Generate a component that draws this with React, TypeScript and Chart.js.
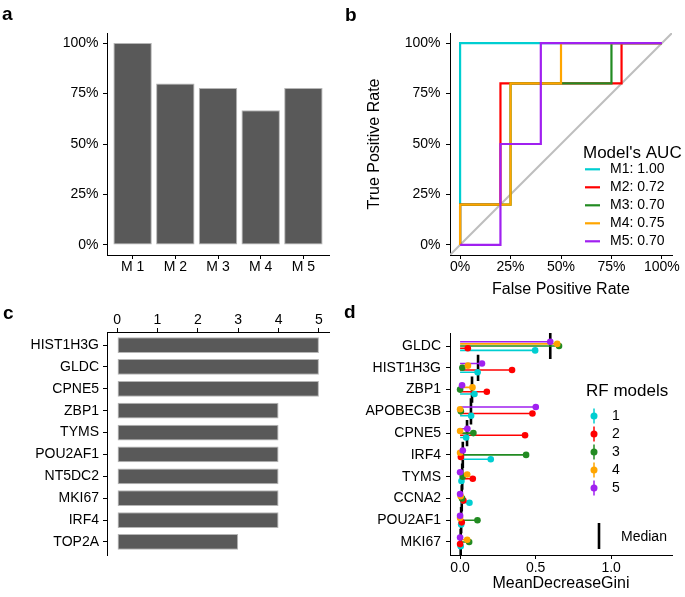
import React, { useEffect, useRef } from 'react';
import { Chart, registerables } from 'chart.js';

Chart.register(...registerables);

const FONT = '"Liberation Sans", Arial, Helvetica, sans-serif';
const INK = '#000000';
const BAR_FILL = '#595959';
const BAR_EDGE = '#b5b5b5';

// ---------- Panel a: accuracy of each model
const modelNames = ['M 1', 'M 2', 'M 3', 'M 4', 'M 5'];
const modelAccuracy = [1.0, 0.8, 0.778, 0.667, 0.778];
const percentTicks = [0, 0.25, 0.5, 0.75, 1];

// ---------- Panel b: ROC curves
const rocNames = ['M1', 'M2', 'M3', 'M4', 'M5'];
const rocAuc = [1.0, 0.72, 0.7, 0.75, 0.7];
const modelColors = ['#00CED1', '#FF0000', '#228B22', '#FFA500', '#A020F0'];
const rocFpr = [
  [0, 0, 1],
  [0, 0, 0.2, 0.2, 0.8, 0.8, 1],
  [0, 0, 0.25, 0.25, 0.75, 0.75, 1],
  [0, 0, 0.25, 0.25, 0.5, 0.5, 1],
  [0, 0.2, 0.2, 0.4, 0.4, 1],
];
const rocTpr = [
  [0, 1, 1],
  [0, 0.2, 0.2, 0.8, 0.8, 1, 1],
  [0, 0.2, 0.2, 0.8, 0.8, 1, 1],
  [0, 0.2, 0.2, 0.8, 0.8, 1, 1],
  [0, 0, 0.5, 0.5, 1, 1],
];

// ---------- Panel c: gene selection counts
const genesC = ['HIST1H3G', 'GLDC', 'CPNE5', 'ZBP1', 'TYMS', 'POU2AF1', 'NT5DC2', 'MKI67', 'IRF4', 'TOP2A'];
const countsC = [5, 5, 5, 4, 4, 4, 4, 4, 4, 3];
const countTicks = [0, 1, 2, 3, 4, 5];

// ---------- Panel d: MeanDecreaseGini per RF model
const genesD = ['GLDC', 'HIST1H3G', 'ZBP1', 'APOBEC3B', 'CPNE5', 'IRF4', 'TYMS', 'CCNA2', 'POU2AF1', 'MKI67'];
const rfNames = ['1', '2', '3', '4', '5'];
const rf1 = [0.497, 0.116, 0.095, 0.073, 0.04, 0.203, 0.009, 0.062, 0.007, 0.004];
const rf2 = [0.051, 0.344, 0.177, 0.479, 0.43, 0.005, 0.084, 0.022, 0.011, 0.0];
const rf3 = [0.655, 0.015, 0.0, 0.005, 0.088, 0.437, 0.017, 0.013, 0.115, 0.06];
const rf4 = [0.643, 0.052, 0.082, 0.0, 0.0, 0.0, 0.047, 0.004, 0.0, 0.047];
const rf5 = [0.597, 0.145, 0.013, 0.501, 0.048, 0.018, 0.0, 0.0, 0.0, 0.0];
const rfSeries = [rf1, rf2, rf3, rf4, rf5];
const medianD = [0.597, 0.119, 0.079, 0.072, 0.046, 0.018, 0.014, 0.011, 0.007, 0.004];
const giniTicks = [0, 0.5, 1];
// vertical dodge of the five models inside one gene row (category units)
const seriesDodge = [0.2, 0.1, 0, -0.1, -0.2];
const medianHalfSpan = 0.6;

const pct = (v: number) => Math.round(v * 100) + '%';
const idx = (arr: any[]) => arr.map((_, i) => i);
const giniLabel = (v: number) => v.toFixed(1);

function axis(o: {
  min: number; max: number; ticks: number[]; label: (v: number) => string;
  position: string; size: number; padding: number; reverse?: boolean; title?: any;
}) {
  return {
    type: 'linear',
    position: o.position,
    min: o.min,
    max: o.max,
    offset: false,
    reverse: !!o.reverse,
    afterBuildTicks: (ax: any) => { ax.ticks = o.ticks.map((v) => ({ value: v })); },
    afterFit: (ax: any) => { if (ax.isHorizontal()) ax.height = o.size; else ax.width = o.size; },
    grid: { display: true, offset: false, drawOnChartArea: false, drawTicks: true, tickLength: 4, tickWidth: 1, tickColor: INK },
    border: { display: true, color: INK, width: 1 },
    ticks: {
      display: true,
      color: INK, font: { family: FONT, size: 14 }, padding: o.padding,
      autoSkip: false, maxRotation: 0, minRotation: 0,
      callback: (v: any) => o.label(Number(v)),
    },
    title: o.title ?? { display: false },
  };
}

function overlay(draw: (ctx: CanvasRenderingContext2D, chart: any) => void) {
  return {
    id: 'overlay',
    afterDraw(chart: any) {
      const ctx: CanvasRenderingContext2D = chart.ctx;
      ctx.save();
      draw(ctx, chart);
      ctx.restore();
    },
  };
}

function letter(ctx: CanvasRenderingContext2D, t: string, x: number, y: number) {
  ctx.fillStyle = INK;
  ctx.font = `bold 19px ${FONT}`;
  ctx.textAlign = 'left';
  ctx.textBaseline = 'alphabetic';
  ctx.fillText(t, x, y);
}

const baseOptions = {
  responsive: false,
  animation: false,
  events: [],
  plugins: { legend: { display: false }, tooltip: { enabled: false } },
};

const makeA = () => ({
  type: 'bar',
  data: {
    datasets: [{
      data: modelAccuracy.map((v, i) => ({ x: i, y: v })),
      backgroundColor: BAR_FILL, borderColor: BAR_EDGE, borderWidth: 1, borderSkipped: false,
      barPercentage: 0.9, categoryPercentage: 1,
    }],
  },
  options: {
    ...baseOptions,
    layout: { padding: { top: 33, right: 11, left: 0, bottom: 0 } },
    scales: {
      x: axis({ min: -0.6, max: 4.6, ticks: idx(modelNames), label: (v) => modelNames[Math.round(v)], position: 'bottom', size: 35, padding: 0 }),
      y: axis({ min: -0.05, max: 1.05, ticks: percentTicks, label: pct, position: 'left', size: 107, padding: 4.5 }),
    },
  },
  plugins: [overlay((ctx) => letter(ctx, 'a', 2, 20))],
});

const makeB = () => ({
  type: 'scatter',
  data: {
    datasets: [
      {
        data: [{ x: -0.05, y: -0.05 }, { x: 1.05, y: 1.05 }],
        borderColor: '#BEBEBE', borderWidth: 2, showLine: true, pointRadius: 0, order: 10,
      },
      ...rocNames.map((_, k) => ({
        data: rocFpr[k].map((x, j) => ({ x, y: rocTpr[k][j] })),
        borderColor: modelColors[k], borderWidth: 2.2, showLine: true, pointRadius: 0,
        borderJoinStyle: 'miter', order: 5 - k,
      })),
    ],
  },
  options: {
    ...baseOptions,
    layout: { padding: { top: 33, right: 13, left: 0, bottom: 0 } },
    scales: {
      x: axis({
        min: -0.05, max: 1.05, ticks: percentTicks, label: pct, position: 'bottom', size: 45, padding: 0,
        title: { display: true, text: 'False Positive Rate', color: INK, font: { family: FONT, size: 16 }, padding: { top: 0, bottom: 1 } },
      }),
      y: axis({
        min: -0.05, max: 1.05, ticks: percentTicks, label: pct, position: 'left', size: 110, padding: 5.5,
        title: { display: true, text: 'True Positive Rate', color: INK, font: { family: FONT, size: 16 }, padding: { top: 25.4, bottom: 0 } },
      }),
    },
  },
  plugins: [overlay((ctx) => {
    letter(ctx, 'b', 5, 20.5);
    ctx.fillStyle = INK;
    ctx.textAlign = 'left';
    ctx.textBaseline = 'middle';
    ctx.font = `17px ${FONT}`;
    ctx.fillText("Model's AUC", 243, 153);
    rocNames.forEach((n, k) => {
      const y = 169.3 + 18 * k;
      ctx.strokeStyle = modelColors[k];
      ctx.lineWidth = 2.2;
      ctx.beginPath();
      ctx.moveTo(245, y);
      ctx.lineTo(260, y);
      ctx.stroke();
      ctx.font = `14px ${FONT}`;
      ctx.fillText(`${n}: ${rocAuc[k].toFixed(2)}`, 270, y);
    });
  })],
});

const makeC = () => ({
  type: 'bar',
  data: {
    datasets: [{
      data: countsC.map((v, i) => ({ x: v, y: i })),
      backgroundColor: BAR_FILL, borderColor: BAR_EDGE, borderWidth: 1, borderSkipped: false,
      barPercentage: 0.72, categoryPercentage: 1,
    }],
  },
  options: {
    ...baseOptions,
    indexAxis: 'y',
    layout: { padding: { top: 0, right: 11, left: 0, bottom: 42 } },
    scales: {
      x: axis({ min: -0.25, max: 5.25, ticks: countTicks, label: (v) => String(v), position: 'top', size: 42, padding: -1 }),
      y: axis({ min: -0.6, max: 9.6, reverse: true, ticks: idx(genesC), label: (v) => genesC[Math.round(v)], position: 'left', size: 107, padding: 4 }),
    },
  },
  plugins: [overlay((ctx) => letter(ctx, 'c', 3, 29.3))],
});

const makeD = () => {
  const medianData = medianD.flatMap((m, i) => [
    { x: m, y: i - medianHalfSpan }, { x: m, y: i + medianHalfSpan }, { x: null, y: null },
  ]);
  const segs = rfSeries.map((vals, k) => ({
    data: vals.flatMap((v, i) => [{ x: 0, y: i + seriesDodge[k] }, { x: v, y: i + seriesDodge[k] }, { x: null, y: null }]),
    borderColor: modelColors[k], borderWidth: 1.6, showLine: true, pointRadius: 0, order: 50 - k,
  }));
  const dots = rfSeries.map((vals, k) => ({
    data: vals.map((v, i) => ({ x: v, y: i + seriesDodge[k] })),
    showLine: false, pointRadius: 3.3, pointBackgroundColor: modelColors[k], pointBorderWidth: 0,
    backgroundColor: modelColors[k], order: 10 - k,
  }));
  return {
    type: 'scatter',
    data: {
      datasets: [
        { data: medianData, borderColor: INK, borderWidth: 2.6, showLine: true, pointRadius: 0, order: 100 },
        ...segs,
        ...dots,
      ],
    },
    options: {
      ...baseOptions,
      layout: { padding: { top: 43, right: 13, left: 0, bottom: 0 } },
      scales: {
        x: axis({
          min: -0.0668, max: 1.403, ticks: giniTicks, label: giniLabel, position: 'bottom', size: 42, padding: 0.5,
          title: { display: true, text: 'MeanDecreaseGini', color: INK, font: { family: FONT, size: 16 }, padding: { top: 0, bottom: 3.4 } },
        }),
        y: axis({ min: -0.6, max: 9.6, reverse: true, ticks: idx(genesD), label: (v) => genesD[Math.round(v)], position: 'left', size: 110, padding: 5 }),
      },
    },
    plugins: [overlay((ctx) => {
      letter(ctx, 'd', 4, 28.3);
      ctx.fillStyle = INK;
      ctx.textAlign = 'left';
      ctx.textBaseline = 'middle';
      ctx.font = `17px ${FONT}`;
      ctx.fillText('RF models', 246, 101);
      rfNames.forEach((n, k) => {
        const y = 126 + 18 * k;
        ctx.strokeStyle = modelColors[k];
        ctx.lineWidth = 1.5;
        ctx.beginPath();
        ctx.moveTo(254, y - 7.5);
        ctx.lineTo(254, y + 7.5);
        ctx.stroke();
        ctx.fillStyle = modelColors[k];
        ctx.beginPath();
        ctx.arc(254, y, 3.5, 0, Math.PI * 2);
        ctx.fill();
        ctx.fillStyle = INK;
        ctx.font = `14px ${FONT}`;
        ctx.fillText(n, 272, y);
      });
      ctx.strokeStyle = INK;
      ctx.lineWidth = 2.6;
      ctx.beginPath();
      ctx.moveTo(259, 233);
      ctx.lineTo(259, 259);
      ctx.stroke();
      ctx.fillStyle = INK;
      ctx.font = `14px ${FONT}`;
      ctx.fillText('Median', 281, 246.7);
    })],
  };
};

function Panel({ left, top, width, height, make }: { left: number; top: number; width: number; height: number; make: () => any }) {
  const ref = useRef<HTMLCanvasElement | null>(null);
  useEffect(() => {
    if (!ref.current) return;
    const chart = new Chart(ref.current, make());
    return () => chart.destroy();
  }, [make]);
  return (
    <canvas
      ref={ref}
      width={width}
      height={height}
      style={{ position: 'absolute', left, top, width, height }}
    />
  );
}

export default function App() {
  return (
    <div style={{ position: 'absolute', left: 0, top: 0, width: 685, height: 597, background: '#ffffff', overflow: 'hidden' }}>
      <Panel left={0} top={0} width={340} height={290} make={makeA} />
      <Panel left={340} top={0} width={345} height={300} make={makeB} />
      <Panel left={0} top={290} width={340} height={307} make={makeC} />
      <Panel left={340} top={290} width={345} height={307} make={makeD} />
    </div>
  );
}
